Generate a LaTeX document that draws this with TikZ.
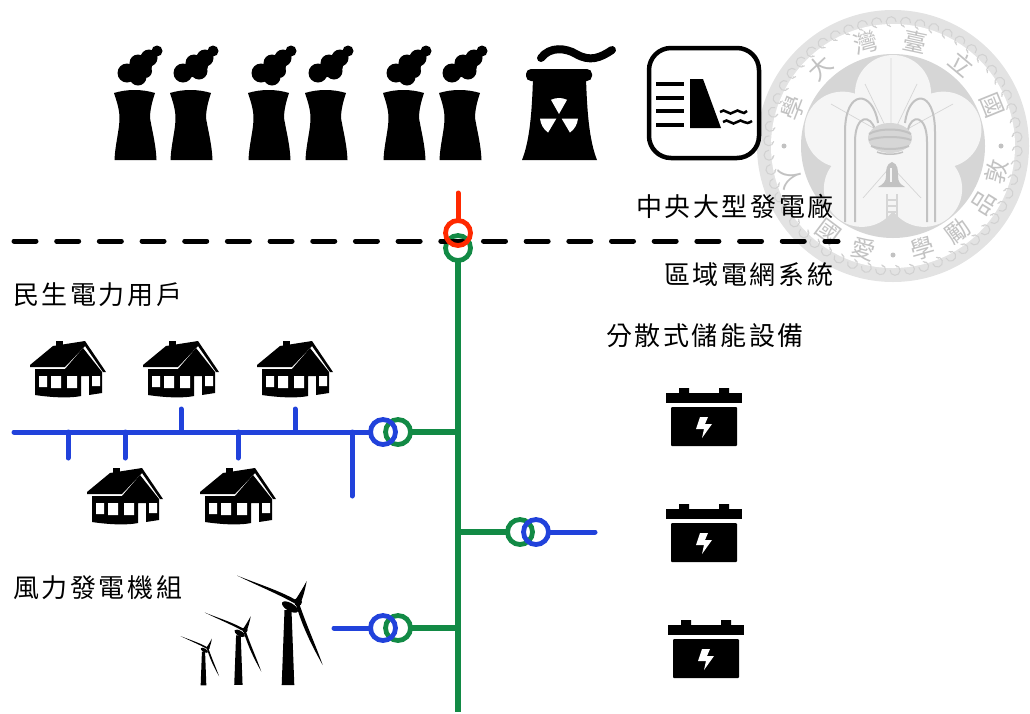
\documentclass[tikz,border=0pt]{standalone}
\usepackage{fontspec}
\newfontfamily\cjk[LetterSpace=10]{Noto Sans CJK TC}
\newfontfamily\cjkseal{Noto Sans CJK TC}
\definecolor{gridred}{rgb}{1.0, 0.16, 0.0}
\definecolor{gridgreen}{rgb}{0.07, 0.54, 0.27}
\definecolor{gridblue}{rgb}{0.13, 0.26, 0.86}
\definecolor{sealband}{gray}{0.89}
\definecolor{sealswirl}{gray}{0.82}
\definecolor{sealdisc}{gray}{0.84}
\definecolor{sealpetal}{gray}{0.96}
\definecolor{sealink}{gray}{0.76}
\usetikzlibrary{positioning, calc}
\tikzstyle{caption}=[anchor=west, inner sep=0pt, font=\cjk\fontsize{26}{28}\selectfont]
\tikzstyle{sealchar}=[inner sep=0pt, text=sealink, font=\cjkseal\fontsize{24}{24}\selectfont]
\tikzstyle{ring}=[circle, draw, line width=4.8pt, minimum size=25pt, inner sep=0pt, outer sep=0pt]
\tikzstyle{bluebus}=[line width=5pt, color=gridblue, line cap=round]
\tikzstyle{greenbus}=[line width=5.5pt, color=gridgreen]
\tikzstyle{redbus}=[line width=5pt, color=gridred, line cap=round]
\tikzset{
  smokebase/.pic={
    \fill (0,3) .. controls (13,-1) and (28,-1) .. (41,3) .. controls (38,12) and (36,20) .. (36,28)
      .. controls (38,40) and (42,55) .. (42.5,70) -- (0.5,70) .. controls (1,55) and (5.5,40) .. (5.5,28)
      .. controls (5.5,20) and (3,12) .. (0,3) -- cycle;
    \fill (13,-17) circle [radius=9.5pt] (24,-27) circle [radius=8.5pt] (35,-32) circle [radius=8.5pt]
      (43,-39) circle [radius=5.5pt] (22,-20) circle [radius=7pt] (31,-24) circle [radius=7pt];
  },
  coolA/.pic={
    \pic {smokebase};
    \fill (24,-13) circle [radius=8.5pt] (31,-19) circle [radius=7pt];
  },
  coolB/.pic={
    \pic {smokebase};
    \fill (29,-19) circle [radius=8.5pt];
  },
  housepic/.pic={
    \fill (26,0) rectangle (33,6);
    \fill (0,24) -- (23,5) -- (55,0) -- (76,31) -- (73,31) -- (55,5) -- (35,26) -- (0,26) -- cycle;
    \fill (5,28) -- (35,28) -- (53,7) -- (72,31) -- (72,52) -- (59,54) -- (59,35) -- (51,35) -- (51,55)
      .. controls (42,57) and (25,57) .. (5,54) -- cycle;
    \fill[white] (9,35) rectangle (17,46) (21,35) rectangle (31,47) (37,35) rectangle (47,47) (62,35) rectangle (70,45);
  },
  batterypic/.pic={
    \fill (13,0) rectangle (23,6) (53,0) rectangle (63,6);
    \fill (0,5) rectangle (76,15);
    \fill[rounded corners=1pt] (5,19) rectangle (71,58);
    \fill[white] (34,29) -- (42,29) -- (39,36) -- (46,36) -- (36,50) -- (38,41) -- (30,41) -- cycle;
  },
  turbinepic/.pic={
    \fill (-13.5,8) -- (-6.5,8) -- (-3.7,83) -- (-16.3,83) -- cycle;
    \fill[rotate around={-30:(-8,5)}] (-8,5) ellipse [x radius=9pt, y radius=4pt];
    \fill (-2,-2) .. controls (-20,-12) and (-40,-18) .. (-61,-26.5) .. controls (-42,-17) and (-22,-9) .. (-4,1) -- cycle;
    \fill (-4,0) .. controls (0,-6) and (5,-14) .. (8.7,-21) .. controls (7,-12) and (5,-4) .. (2,2) -- cycle;
    \fill (-2,3) -- (1,1) .. controls (8,22) and (18,44) .. (24.7,63) .. controls (14,44) and (5,26) .. (-2,3) -- cycle;
    \fill (0,0) circle [radius=4pt];
  }
}
\begin{document}
\begin{tikzpicture}[x=1pt, y=-1pt]
	\useasboundingbox (0,0) rectangle (1030,713);
	\def \radius {107pt}

	% seal
	\begin{scope}[shift={(893,146)}]
		\fill[sealband] (0,0) circle [radius=136pt];
		\fill[white] (0,0) circle [radius=122pt];
		\foreach \a in {0,6.67,...,359} {
			\draw[sealswirl, line width=1pt, rotate=\a] (124,-4) arc (-90:180:5pt) arc (180:90:2pt);
		}
		\fill[sealdisc] (0,0) circle [radius=92pt];
		\fill[sealpetal] (90:53pt) circle [radius=38pt] (162:53pt) circle [radius=38pt]
			(234:53pt) circle [radius=38pt] (306:53pt) circle [radius=38pt] (18:53pt) circle [radius=38pt]
			(0,0) circle [radius=40pt];
		\path (159:\radius) node[sealchar, rotate=69] (sealA) {學}
			(133:\radius) node[sealchar, rotate=43] (sealB) {大}
			(105:\radius) node[sealchar, rotate=15] (sealC) {灣}
			(78:\radius) node[sealchar, rotate=-12] (sealD) {臺}
			(50:\radius) node[sealchar, rotate=-40] (sealE) {立}
			(22:\radius) node[sealchar, rotate=-68] (sealF) {國}
			(-14:\radius) node[sealchar, rotate=76] (sealG) {敦}
			(-32:\radius) node[sealchar, rotate=58] (sealH) {品}
			(-53:\radius) node[sealchar, rotate=37] (sealI) {勵}
			(-74:\radius) node[sealchar, rotate=16] (sealJ) {學}
			(-106:\radius) node[sealchar, rotate=-16] (sealK) {愛}
			(-127:\radius) node[sealchar, rotate=-37] (sealL) {國}
			(-163:\radius) node[sealchar, rotate=-73] (sealM) {人};
		\fill[sealink] (-90:109pt) circle [radius=2.5pt] (180:109pt) circle [radius=2.5pt] (0:108pt) circle [radius=2.5pt];
		% grain
		\draw[sealdisc, line width=.7pt] (-2,-8) -- (-2,-88) (-2,-8) -- (-28,-62) (-2,-8) -- (24,-62) (-2,-8) -- (-62,-42)
			(-2,-8) -- (60,-42) (-2,20) -- (-30,52) (-2,20) -- (28,52);
		% arches
		\draw[sealink, line width=2pt] (-48,76) -- (-48,-14) .. controls (-48,-58) and (-20,-56) .. (-15,-23);
		\draw[sealink, line width=2pt] (-38,76) -- (-38,-4) .. controls (-38,-32) and (-22,-32) .. (-18,-16);
		\draw[sealink, line width=2pt] (42,76) -- (42,-14) .. controls (42,-58) and (16,-56) .. (12,-23);
		\draw[sealink, line width=2pt] (34,76) -- (34,-4) .. controls (34,-32) and (18,-32) .. (15,-16);
		% basin
		\fill[sealdisc] (-3,-8) ellipse [x radius=22pt, y radius=15pt];
		\draw[sealink, line width=2pt] (-24,-12) .. controls (-14,-18) and (8,-18) .. (18,-12)
			(-24,-6) .. controls (-14,-10) and (8,-10) .. (18,-6)
			(-22,0) .. controls (-12,4) and (6,4) .. (16,0);
		\draw[sealink, line width=1.5pt] (-16,6) .. controls (-8,9) and (2,9) .. (10,6);
		% bell
		\fill[sealink] (-1,16) .. controls (-7,18) and (-7,24) .. (-7,30) .. controls (-7,36) and (-10,38) .. (-15,41)
			-- (12,41) .. controls (7,38) and (5,36) .. (5,30) .. controls (5,24) and (5,18) .. (-1,16) -- cycle;
		\fill[sealpetal] (-3,22) rectangle (-1,36);
		\draw[sealdisc, line width=1.5pt] (-6,48) -- (-6,74) (4,48) -- (4,74) (-6,54) -- (4,54) (-6,60) -- (4,60) (-6,66) -- (4,66);
	\end{scope}

	% plants
	\path (114,90) pic {coolA} (170,90) pic {coolB}
		(248,90) pic {coolA} (305,90) pic {coolB}
		(383,90) pic {coolA} (439,90) pic {coolB};
	% nuclear tower
	\fill (533,78) -- (586,78) .. controls (587,110) and (589,140) .. (597,160) -- (522,160)
		.. controls (530,140) and (532,110) .. (533,78) -- cycle;
	\fill[rounded corners=5pt] (526,69) rectangle (592,81);
	\draw[line width=8pt, line cap=round] (541,58) .. controls (550,46) and (566,48) .. (576,54)
		.. controls (590,62) and (600,58) .. (612,50);
	\begin{scope}[shift={(559,117)}]
		\fill[white] (90:3pt) -- (65:19pt) arc (65:115:19pt) -- cycle
			(210:3pt) -- (185:19pt) arc (185:235:19pt) -- cycle
			(330:3pt) -- (305:19pt) arc (305:355:19pt) -- cycle;
	\end{scope}
	% hydro
	\draw[line width=4.5pt, rounded corners=22pt] (649,48) rectangle (759,158);
	\draw[line width=4.5pt] (656,84) -- (684,84) (656,98) -- (684,98) (656,111) -- (684,111) (656,125) -- (684,125);
	\fill (690,79) -- (703,79) -- (721,128) -- (690,128) -- cycle;
	\draw[line width=2.5pt] (720,112) .. controls (722,110) and (725,110) .. (727,112) .. controls (729,114) and (732,114) .. (734,112)
		.. controls (736,110) and (739,110) .. (741,112) .. controls (743,114) and (745,113) .. (747,111)
		(723,122) .. controls (725,120) and (728,120) .. (730,122) .. controls (732,124) and (735,124) .. (737,122)
		.. controls (739,120) and (742,120) .. (744,122) .. controls (746,124) and (749,123) .. (752,121);

	% coordinates
	\coordinate (gridL) at (14,241);
	\coordinate (gridR) at (838,241);
	\coordinate (redTop) at (458,193);
	\coordinate (greenEnd) at (458,712);
	\coordinate (busL) at (14,432);
	\coordinate (stubA) at (68,458);
	\coordinate (stubB) at (125,458);
	\coordinate (stubC) at (181,409);
	\coordinate (stubD) at (238,458);
	\coordinate (stubE) at (295,409);
	\coordinate (stubF) at (352,496);
	\coordinate (storeEnd) at (595,532);
	\coordinate (windEnd) at (334,628);

	% green bus and rings
	\node[ring, color=gridgreen] (ringGridG) at (458,248) {};
	\draw[greenbus] (ringGridG) -- (greenEnd);
	\node[ring, color=gridgreen] (ringLoadG) at (398,432) {};
	\node[ring, color=gridgreen] (ringStoreG) at (520,532) {};
	\node[ring, color=gridgreen] (ringWindG) at (398,628) {};
	\draw[greenbus] (ringLoadG) -- (ringLoadG -| greenEnd);
	\draw[greenbus] (ringStoreG) -- (ringStoreG -| greenEnd);
	\draw[greenbus] (ringWindG) -- (ringWindG -| greenEnd);

	% boundary
	\draw[line width=5pt, line cap=round, dash pattern=on 22pt off 20.68pt] (gridL) -- (gridR);
	\node[ring, color=gridred] (ringGridR) at (458,233) {};
	\draw[redbus] (redTop) -- (ringGridR);

	% blue side
	\node[ring, color=gridblue] (ringLoadB) at (383,432) {};
	\node[ring, color=gridblue] (ringStoreB) at (536,532) {};
	\node[ring, color=gridblue] (ringWindB) at (383,628) {};
	\draw[bluebus] (busL) -- (ringLoadB);
	\draw[bluebus] (stubA |- busL) -- (stubA);
	\draw[bluebus] (stubB |- busL) -- (stubB);
	\draw[bluebus] (stubC |- busL) -- (stubC);
	\draw[bluebus] (stubD |- busL) -- (stubD);
	\draw[bluebus] (stubE |- busL) -- (stubE);
	\draw[bluebus] (stubF |- busL) -- (stubF);
	\draw[bluebus] (ringStoreB) -- (storeEnd);
	\draw[bluebus] (windEnd) -- (ringWindB);

	% houses, batteries, turbines
	\path (30,341) pic {housepic} (143,341) pic {housepic} (257,341) pic {housepic}
		(87,468) pic {housepic} (200,468) pic {housepic};
	\path (666,388) pic {batterypic} (666,504) pic {batterypic} (668,620) pic {batterypic};
	\path (298,602) pic {turbinepic} (245,630) pic[scale=.66] {turbinepic} (208,648) pic[scale=.45] {turbinepic};

	% texts
	\node[caption] (plantText) at (636,206) {中央大型發電廠};
	\node[caption] (gridText) at (664,275) {區域電網系統};
	\node[caption] (homeText) at (13,295) {民生電力用戶};
	\node[caption] (storeText) at (606,336) {分散式儲能設備};
	\node[caption] (windText) at (13,588) {風力發電機組};
\end{tikzpicture}
\end{document}
